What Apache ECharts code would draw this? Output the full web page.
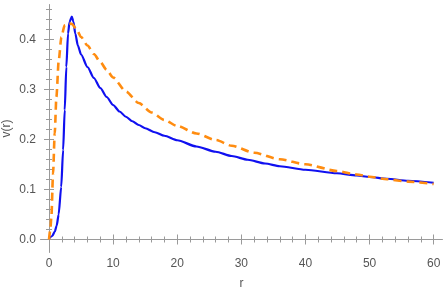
<!DOCTYPE html>
<html><head><meta charset="utf-8">
<script src="https://cdn.jsdelivr.net/npm/echarts@6/dist/echarts.min.js"></script>
<style>html,body{margin:0;padding:0;background:#fff}#c{width:447px;height:291px}</style>
</head><body><div id="c"></div>
<script>
const xTicks = [0, 10, 20, 30, 40, 50, 60];
const yTicks = [0.0, 0.1, 0.2, 0.3, 0.4];
const xMinor = [2,4,6,8,12,14,16,18,22,24,26,28,32,34,36,38,42,44,46,48,52,54,56,58];
const yMinor = [0.02,0.04,0.06,0.08,0.12,0.14,0.16,0.18,0.22,0.24,0.26,0.28,0.32,0.34,0.36,0.38,0.42,0.44,0.46];

const blueR = [0, 0.5, 0.9, 1.2, 1.5, 1.9, 2.2, 2.45, 2.7, 2.97, 3.2, 3.55, 3.8, 4.1, 4.5, 5, 6, 7, 8, 9, 10, 11, 12, 13, 14, 15, 16.5, 18, 20, 23, 26, 28.5, 31, 33.7, 36, 40, 44.9, 48, 50, 52.7, 56, 60];
const blueV = [0.002, 0.007, 0.016, 0.028, 0.050, 0.105, 0.179, 0.259, 0.345, 0.412, 0.435, 0.446, 0.436, 0.412, 0.388, 0.370, 0.345, 0.323, 0.303, 0.285, 0.269, 0.256, 0.2455, 0.2365, 0.229, 0.2225, 0.2145, 0.2075, 0.1985, 0.186, 0.1755, 0.167, 0.1595, 0.152, 0.1465, 0.1395, 0.1325, 0.128, 0.125, 0.1215, 0.1175, 0.1135];

const orangeR = [0, 0.2, 0.37, 0.63, 0.89, 1.15, 1.52, 1.93, 2.45, 3.0, 3.6, 4.3, 5, 6, 7, 8, 9, 10, 12, 14, 16, 18, 20, 23, 26, 28.5, 32, 36, 40, 44.9, 48, 50, 52.7, 56, 60];
const orangeV = [0.0, 0.02, 0.045, 0.132, 0.212, 0.285, 0.359, 0.405, 0.429, 0.433, 0.431, 0.42, 0.405, 0.388, 0.371, 0.355, 0.339, 0.324, 0.296, 0.273, 0.254, 0.239, 0.227, 0.212, 0.199, 0.1875, 0.1735, 0.1605, 0.1505, 0.137, 0.130, 0.1255, 0.1205, 0.1158, 0.111];

const frameColor = '#9a9a9a';
const labelStyle = {color: '#555', fontSize: 12, fontFamily: 'Liberation Sans'};
const X0 = -1.25, X1 = 61.3, Y0 = -0.025, Y1 = 0.469;
const gridRect = {left: 41, top: 5, width: 401, height: 247, outerBoundsMode: 'none', containLabel: false};

function xAx(gridIndex, position, ticks, len, labels, name) {
  return {
    type: 'value', gridIndex, position, min: X0, max: X1,
    name: name || '', nameLocation: 'middle', nameGap: 26, nameMoveOverlap: false,
    nameTextStyle: labelStyle,
    axisLine: {show: true, lineStyle: {color: frameColor, width: 1}},
    axisTick: {show: true, inside: true, length: len, customValues: ticks, lineStyle: {color: frameColor}},
    axisLabel: labels ? Object.assign({show: true, margin: 6, customValues: ticks, formatter: v => String(Math.round(v))}, labelStyle) : {show: false},
    splitLine: {show: false}
  };
}
function yAx(gridIndex, position, ticks, len, labels, name) {
  return {
    type: 'value', gridIndex, position, min: Y0, max: Y1,
    name: name || '', nameLocation: 'middle', nameGap: 28, nameMoveOverlap: false,
    nameTextStyle: labelStyle,
    axisLine: {show: true, lineStyle: {color: frameColor, width: 1}},
    axisTick: {show: true, inside: true, length: len, customValues: ticks, lineStyle: {color: frameColor}},
    axisLabel: labels ? Object.assign({show: true, margin: 5, customValues: ticks, formatter: v => v.toFixed(1)}, labelStyle) : {show: false},
    splitLine: {show: false}
  };
}

const chart = echarts.init(document.getElementById('c'), null, {renderer: 'canvas'});
chart.setOption({
  animation: false,
  backgroundColor: '#fff',
  grid: [Object.assign({}, gridRect), Object.assign({}, gridRect)],
  xAxis: [
    xAx(0, 'bottom', xTicks, 5, true, 'r'),
    xAx(0, 'top', xTicks, 5, false),
    xAx(1, 'bottom', xMinor, 3, false),
    xAx(1, 'top', xMinor, 3, false)
  ],
  yAxis: [
    yAx(0, 'left', yTicks, 5, true, 'v(r)'),
    yAx(0, 'right', yTicks, 5, false),
    yAx(1, 'left', yMinor, 3, false),
    yAx(1, 'right', yMinor, 3, false)
  ],
  series: [
    {type: 'line', xAxisIndex: 0, yAxisIndex: 0, showSymbol: false, smooth: 0.25, smoothMonotone: 'x',
     data: blueR.map((r, i) => [r, blueV[i]]),
     lineStyle: {color: '#1010f0', width: 2.2}},
    {type: 'line', xAxisIndex: 0, yAxisIndex: 0, showSymbol: false, smooth: 0.25, smoothMonotone: 'x',
     data: orangeR.map((r, i) => [r, orangeV[i]]),
     lineStyle: {color: '#ff8c10', width: 2.6, type: [8, 5]}}
  ]
});
</script></body></html>
